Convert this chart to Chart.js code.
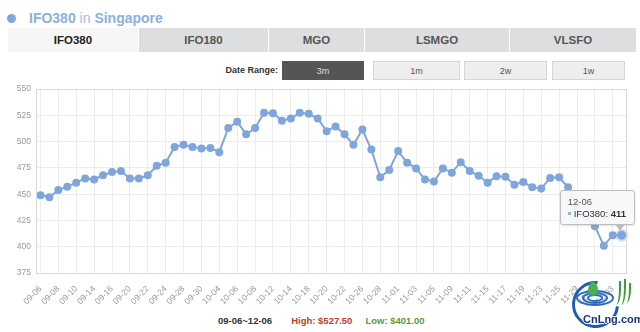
<!DOCTYPE html>
<html>
<head>
<meta charset="utf-8">
<script src="https://cdn.jsdelivr.net/npm/chart.js@4.4.1/dist/chart.umd.min.js"></script>
<style>
  body { margin: 0; width: 640px; height: 332px; background: #fff; position: relative; overflow: hidden;
         font-family: "Liberation Sans", Arial, sans-serif; }
  .title { position: absolute; left: 7px; top: 10px; font-size: 14px; color: #8cb0de; white-space: nowrap; }
  .title .dot { display: inline-block; width: 9px; height: 9px; border-radius: 50%; background: #7ea6e0;
                margin-right: 13px; vertical-align: 0px; }
  .title .in { color: #9fbbe0; }
  .tab { position: absolute; top: 28px; height: 24px; line-height: 24px; text-align: center; font-size: 11.5px;
         font-weight: bold; color: #555; background: #dcdedf; box-sizing: border-box; }
  .tab.on { background: #f6f6f6; color: #222; }
  .range-label { position: absolute; top: 61px; left: 180px; width: 98px; text-align: right; font-size: 9px;
                 font-weight: bold; color: #333; line-height: 19px; }
  .btn { position: absolute; top: 61px; height: 19px; line-height: 19px; text-align: center; font-size: 9px;
         color: #555; background: #eeeeee; border: 1px solid #d6d6d6; box-sizing: border-box; }
  .btn.on { background: #555; color: #ddd; border-color: #555; }
  #wrap { position: absolute; left: 0; top: 79px; width: 640px; height: 233px; }
  #tip { position: absolute; display: none; background: rgba(247,247,247,0.92); border: 1px solid #bdbdbd;
         border-radius: 3px; padding: 5px 8px 5px 7px; font-size: 9.5px; color: #333; white-space: nowrap;
         box-shadow: 0 1px 2px rgba(0,0,0,0.12); z-index: 3; }
  #tip .t { color: #555; margin-bottom: 1px; }
  #tip .sw { display: inline-block; width: 3px; height: 3px; background: #9ab4d8; margin-right: 3px; vertical-align: 2px; }
  #tip:after { content: ""; position: absolute; right: 9px; bottom: -7px; border-left: 5px solid transparent;
               border-right: 5px solid transparent; border-top: 7px solid #bdbdbd; }
  .summary { position: absolute; left: 218px; top: 315px; font-size: 9.5px; font-weight: bold; color: #333;
             white-space: nowrap; }
  .summary .hi { color: #b8412f; margin-left: 19px; }
  .summary .lo { color: #5c9a3c; margin-left: 13px; }
  .logo { position: absolute; left: 570px; top: 279px; width: 70px; height: 53px; }
  .logo .ring { position: absolute; left: 2px; top: 2px; width: 41px; height: 41px; border: 3px solid #1d5fae;
                border-top-color: transparent; border-radius: 50%; transform: rotate(50deg); }
  .logo .wave { position: absolute; border: 2px solid #2b6cc0; border-radius: 50%; }
  .logo .drop { position: absolute; left: 18px; top: 3px; width: 10px; height: 14px; background: #4caf50;
                border-radius: 50% 50% 50% 50% / 60% 60% 40% 40%; }
  .logo .txt { position: absolute; left: 13px; top: 34px; font-size: 11px; font-weight: bold; color: #17357a;
               text-shadow: 1px 0 0 #fff, -1px 0 0 #fff, 0 1px 0 #fff, 0 -1px 0 #fff; }
  .logo .grass { position: absolute; width: 5px; border-right: 2px solid #3c9b3c; border-radius: 0 0 70% 0; }
</style>
</head>
<body>
<div class="title"><span class="dot"></span><b>IFO380</b> <span class="in">in</span> <b>Singapore</b></div>

<div class="tab on" style="left:8px;width:130px">IFO380</div>
<div class="tab" style="left:139px;width:129px">IFO180</div>
<div class="tab" style="left:269px;width:95px">MGO</div>
<div class="tab" style="left:365px;width:144px">LSMGO</div>
<div class="tab" style="left:510px;width:126px">VLSFO</div>

<div class="range-label">Date Range:</div>
<div class="btn on" style="left:282px;width:82px">3m</div>
<div class="btn" style="left:373px;width:87px">1m</div>
<div class="btn" style="left:464px;width:83px">2w</div>
<div class="btn" style="left:552px;width:73px">1w</div>

<div id="wrap"><canvas id="chart" width="640" height="233"></canvas></div>
<div id="tip"></div>

<div class="summary">09-06~12-06<span class="hi">High: $527.50</span><span class="lo">Low: $401.00</span></div>

<div class="logo">
  <div class="ring"></div>
  <div class="wave" style="left:6px;top:11px;width:34px;height:12px"></div>
  <div class="wave" style="left:12px;top:13px;width:22px;height:8px"></div>
  <div class="wave" style="left:17px;top:15px;width:12px;height:4px"></div>
  <div class="drop"></div>
  <div class="grass" style="left:44px;top:2px;height:24px"></div>
  <div class="grass" style="left:49px;top:0px;height:26px"></div>
  <div class="grass" style="left:54px;top:4px;height:20px"></div>
  <div class="txt">CnLng.com</div>
</div>

<script>
const dates = [
  "09-06", "09-07", "09-08", "09-09", "09-10", "09-13", "09-14", "09-15", "09-16", "09-17",
  "09-20", "09-21", "09-22", "09-23", "09-24", "09-27", "09-28", "09-29", "09-30", "10-01",
  "10-04", "10-05", "10-06", "10-07", "10-08", "10-11", "10-12", "10-13", "10-14", "10-15",
  "10-18", "10-19", "10-20", "10-21", "10-22", "10-25", "10-26", "10-27", "10-28", "10-29",
  "11-01", "11-02", "11-03", "11-04", "11-05", "11-08", "11-09", "11-10", "11-11", "11-12",
  "11-15", "11-16", "11-17", "11-18", "11-19", "11-22", "11-23", "11-24", "11-25", "11-26",
  "11-29", "11-30", "12-01", "12-02", "12-03", "12-06"
];
const prices = [
  449, 447, 454, 457, 461, 465, 464, 468, 471, 472,
  465, 465, 468, 477, 480, 495, 497, 495, 493.5, 494,
  490, 513, 519, 507, 513, 527.5, 527, 520, 522, 527.5,
  526.5, 522, 510, 514.5, 507, 497, 511.5, 492.5, 466, 473,
  491, 480, 474.5, 464, 462, 474.5, 470.5, 480.5, 472, 467.5,
  461, 467, 466.5, 459, 461.5, 456.5, 455.5, 465.5, 466, 456.5,
  438, 428, 419.5, 401, 411, 411
];
const yTicks = { min: 375, max: 550, step: 25 };
const seriesName = "IFO380";
const lineColor = "#7fa6dc";

// light box round the whole plot area
const frame = {
  id: "frame",
  afterDraw(chart) {
    const { ctx, chartArea: a } = chart;
    ctx.save();
    ctx.strokeStyle = "#d9d9d9";
    ctx.lineWidth = 1;
    ctx.strokeRect(Math.round(a.left) + 0.5, Math.round(a.top) + 0.5,
                   Math.round(a.right - a.left), Math.round(a.bottom - a.top));
    ctx.restore();
  }
};

function tipHandler(context) {
  const tip = document.getElementById("tip");
  const t = context.tooltip;
  if (t.opacity === 0 || !t.dataPoints || !t.dataPoints.length) { tip.style.display = "none"; return; }
  const p = t.dataPoints[0];
  tip.innerHTML = '<div class="t">' + p.label + '</div><span class="sw"></span>' +
                  p.dataset.label + ': <b>' + p.formattedValue + '</b>';
  tip.style.display = "block";
  const box = context.chart.canvas.parentNode;
  const w = tip.offsetWidth, h = tip.offsetHeight;
  tip.style.left = (box.offsetLeft + t.caretX + 13 - w) + "px";
  tip.style.top = (box.offsetTop + t.caretY - 10 - h) + "px";
}

const chart = new Chart(document.getElementById("chart"), {
  type: "line",
  data: {
    labels: dates,
    datasets: [{
      label: seriesName,
      data: prices,
      borderColor: lineColor,
      backgroundColor: lineColor,
      borderWidth: 2,
      pointRadius: 3,
      pointHoverRadius: 4.5,
      pointHoverBorderWidth: 4,
      pointHoverBackgroundColor: lineColor,
      pointHoverBorderColor: "rgba(127,166,220,0.35)",
      tension: 0
    }]
  },
  options: {
    responsive: false,
    animation: false,
    layout: { padding: { top: 8, right: 10, left: 0, bottom: 0 } },
    plugins: {
      legend: { display: false },
      tooltip: { enabled: false, external: tipHandler }
    },
    scales: {
      x: {
        offset: true,
        border: { color: "#d9d9d9" },
        grid: { drawTicks: false, color: (c) => (c.index % 2 ? "rgba(0,0,0,0)" : "#ececec") },
        ticks: {
          autoSkip: false, maxRotation: 45, minRotation: 45, padding: 11,
          color: "#999", font: { family: "Liberation Sans", size: 8.5 },
          callback: (v, i) => (i % 2 ? "" : dates[i])
        },
        afterFit: (s) => { s.height = 39; }
      },
      y: {
        min: yTicks.min, max: yTicks.max,
        border: { color: "#d9d9d9" },
        grid: { drawTicks: false, color: "#ececec" },
        ticks: { stepSize: yTicks.step, padding: 5, color: "#999", font: { family: "Liberation Sans", size: 8.5 } },
        afterFit: (s) => { s.width = 36; }
      }
    }
  },
  plugins: [frame]
});

const last = prices.length - 1;
const el = chart.getDatasetMeta(0).data[last];
chart.setActiveElements([{ datasetIndex: 0, index: last }]);
chart.tooltip.setActiveElements([{ datasetIndex: 0, index: last }], { x: el.x, y: el.y });
chart.update();
</script>
</body>
</html>
